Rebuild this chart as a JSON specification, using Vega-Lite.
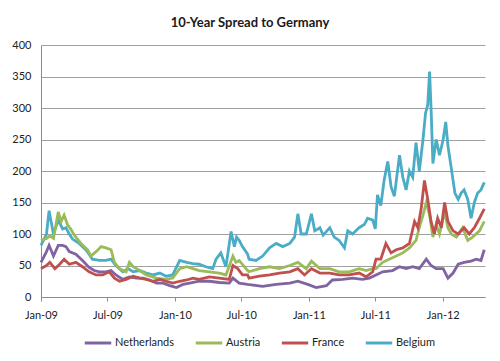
{
"$schema": "https://vega.github.io/schema/vega-lite/v6.json",
"width": 444, "height": 252,
"autosize": "none",
"padding": {"left": 41, "top": 45, "right": 15, "bottom": 64},
"background": "white",
"title": {"text": "10-Year Spread to Germany", "font": "Lato", "fontSize": 13, "fontWeight": "bold", "color": "#1a1a1a", "dx": -13, "offset": 9},
"config": {"view": {"stroke": null}},
"data": {"values": [
{"d":"2009-01-01","c":"Belgium","v":82},{"d":"2009-01-16","c":"Belgium","v":100},{"d":"2009-01-23","c":"Belgium","v":137},{"d":"2009-02-04","c":"Belgium","v":100},{"d":"2009-02-17","c":"Belgium","v":122},{"d":"2009-03-01","c":"Belgium","v":108},{"d":"2009-03-10","c":"Belgium","v":110},{"d":"2009-03-19","c":"Belgium","v":100},{"d":"2009-03-28","c":"Belgium","v":92},{"d":"2009-04-15","c":"Belgium","v":85},{"d":"2009-05-03","c":"Belgium","v":75},{"d":"2009-05-12","c":"Belgium","v":68},{"d":"2009-05-21","c":"Belgium","v":60},{"d":"2009-06-09","c":"Belgium","v":58},{"d":"2009-06-27","c":"Belgium","v":58},{"d":"2009-07-11","c":"Belgium","v":60},{"d":"2009-07-24","c":"Belgium","v":50},{"d":"2009-08-12","c":"Belgium","v":40},{"d":"2009-08-26","c":"Belgium","v":45},{"d":"2009-09-09","c":"Belgium","v":40},{"d":"2009-09-27","c":"Belgium","v":42},{"d":"2009-10-15","c":"Belgium","v":38},{"d":"2009-11-02","c":"Belgium","v":35},{"d":"2009-11-21","c":"Belgium","v":38},{"d":"2009-12-08","c":"Belgium","v":33},{"d":"2009-12-26","c":"Belgium","v":35},{"d":"2010-01-14","c":"Belgium","v":58},{"d":"2010-02-02","c":"Belgium","v":55},{"d":"2010-02-19","c":"Belgium","v":53},{"d":"2010-03-08","c":"Belgium","v":52},{"d":"2010-03-26","c":"Belgium","v":48},{"d":"2010-04-14","c":"Belgium","v":45},{"d":"2010-04-23","c":"Belgium","v":60},{"d":"2010-05-06","c":"Belgium","v":70},{"d":"2010-05-20","c":"Belgium","v":48},{"d":"2010-06-03","c":"Belgium","v":104},{"d":"2010-06-12","c":"Belgium","v":80},{"d":"2010-06-18","c":"Belgium","v":95},{"d":"2010-06-25","c":"Belgium","v":90},{"d":"2010-07-04","c":"Belgium","v":80},{"d":"2010-07-18","c":"Belgium","v":68},{"d":"2010-07-22","c":"Belgium","v":60},{"d":"2010-08-10","c":"Belgium","v":58},{"d":"2010-08-28","c":"Belgium","v":65},{"d":"2010-09-16","c":"Belgium","v":78},{"d":"2010-10-04","c":"Belgium","v":85},{"d":"2010-10-22","c":"Belgium","v":80},{"d":"2010-11-10","c":"Belgium","v":85},{"d":"2010-11-23","c":"Belgium","v":95},{"d":"2010-12-02","c":"Belgium","v":132},{"d":"2010-12-11","c":"Belgium","v":100},{"d":"2010-12-25","c":"Belgium","v":100},{"d":"2011-01-08","c":"Belgium","v":132},{"d":"2011-01-17","c":"Belgium","v":105},{"d":"2011-01-31","c":"Belgium","v":110},{"d":"2011-02-09","c":"Belgium","v":98},{"d":"2011-02-27","c":"Belgium","v":110},{"d":"2011-03-11","c":"Belgium","v":95},{"d":"2011-03-24","c":"Belgium","v":90},{"d":"2011-04-08","c":"Belgium","v":78},{"d":"2011-04-17","c":"Belgium","v":105},{"d":"2011-04-30","c":"Belgium","v":100},{"d":"2011-05-18","c":"Belgium","v":110},{"d":"2011-06-01","c":"Belgium","v":115},{"d":"2011-06-10","c":"Belgium","v":125},{"d":"2011-06-24","c":"Belgium","v":122},{"d":"2011-07-01","c":"Belgium","v":108},{"d":"2011-07-07","c":"Belgium","v":162},{"d":"2011-07-16","c":"Belgium","v":145},{"d":"2011-07-25","c":"Belgium","v":185},{"d":"2011-08-04","c":"Belgium","v":215},{"d":"2011-08-13","c":"Belgium","v":175},{"d":"2011-08-22","c":"Belgium","v":160},{"d":"2011-09-05","c":"Belgium","v":225},{"d":"2011-09-14","c":"Belgium","v":190},{"d":"2011-09-23","c":"Belgium","v":170},{"d":"2011-10-02","c":"Belgium","v":200},{"d":"2011-10-11","c":"Belgium","v":190},{"d":"2011-10-20","c":"Belgium","v":245},{"d":"2011-10-29","c":"Belgium","v":200},{"d":"2011-11-08","c":"Belgium","v":250},{"d":"2011-11-15","c":"Belgium","v":292},{"d":"2011-11-21","c":"Belgium","v":305},{"d":"2011-11-26","c":"Belgium","v":358},{"d":"2011-11-30","c":"Belgium","v":300},{"d":"2011-12-05","c":"Belgium","v":212},{"d":"2011-12-14","c":"Belgium","v":250},{"d":"2011-12-23","c":"Belgium","v":225},{"d":"2012-01-02","c":"Belgium","v":250},{"d":"2012-01-09","c":"Belgium","v":278},{"d":"2012-01-15","c":"Belgium","v":240},{"d":"2012-01-24","c":"Belgium","v":205},{"d":"2012-02-03","c":"Belgium","v":165},{"d":"2012-02-12","c":"Belgium","v":155},{"d":"2012-02-20","c":"Belgium","v":165},{"d":"2012-02-28","c":"Belgium","v":170},{"d":"2012-03-09","c":"Belgium","v":155},{"d":"2012-03-18","c":"Belgium","v":125},{"d":"2012-03-27","c":"Belgium","v":150},{"d":"2012-04-05","c":"Belgium","v":165},{"d":"2012-04-14","c":"Belgium","v":170},{"d":"2012-04-23","c":"Belgium","v":182},
{"d":"2009-01-01","c":"Netherlands","v":55},{"d":"2009-01-16","c":"Netherlands","v":72},{"d":"2009-01-23","c":"Netherlands","v":82},{"d":"2009-02-04","c":"Netherlands","v":65},{"d":"2009-02-17","c":"Netherlands","v":82},{"d":"2009-03-01","c":"Netherlands","v":82},{"d":"2009-03-10","c":"Netherlands","v":80},{"d":"2009-03-19","c":"Netherlands","v":72},{"d":"2009-04-06","c":"Netherlands","v":68},{"d":"2009-04-24","c":"Netherlands","v":58},{"d":"2009-05-12","c":"Netherlands","v":47},{"d":"2009-05-26","c":"Netherlands","v":42},{"d":"2009-06-09","c":"Netherlands","v":40},{"d":"2009-06-27","c":"Netherlands","v":40},{"d":"2009-07-11","c":"Netherlands","v":42},{"d":"2009-07-24","c":"Netherlands","v":35},{"d":"2009-08-12","c":"Netherlands","v":28},{"d":"2009-08-30","c":"Netherlands","v":32},{"d":"2009-09-18","c":"Netherlands","v":30},{"d":"2009-10-06","c":"Netherlands","v":30},{"d":"2009-10-24","c":"Netherlands","v":27},{"d":"2009-11-12","c":"Netherlands","v":22},{"d":"2009-11-30","c":"Netherlands","v":22},{"d":"2009-12-18","c":"Netherlands","v":18},{"d":"2010-01-05","c":"Netherlands","v":15},{"d":"2010-01-23","c":"Netherlands","v":20},{"d":"2010-02-10","c":"Netherlands","v":22},{"d":"2010-03-08","c":"Netherlands","v":25},{"d":"2010-04-05","c":"Netherlands","v":25},{"d":"2010-05-02","c":"Netherlands","v":23},{"d":"2010-05-29","c":"Netherlands","v":22},{"d":"2010-06-08","c":"Netherlands","v":30},{"d":"2010-06-25","c":"Netherlands","v":22},{"d":"2010-07-18","c":"Netherlands","v":20},{"d":"2010-08-28","c":"Netherlands","v":17},{"d":"2010-10-04","c":"Netherlands","v":20},{"d":"2010-11-10","c":"Netherlands","v":22},{"d":"2010-12-02","c":"Netherlands","v":25},{"d":"2010-12-29","c":"Netherlands","v":20},{"d":"2011-01-21","c":"Netherlands","v":15},{"d":"2011-02-18","c":"Netherlands","v":18},{"d":"2011-03-06","c":"Netherlands","v":27},{"d":"2011-04-03","c":"Netherlands","v":28},{"d":"2011-04-30","c":"Netherlands","v":30},{"d":"2011-05-27","c":"Netherlands","v":28},{"d":"2011-06-15","c":"Netherlands","v":30},{"d":"2011-07-03","c":"Netherlands","v":35},{"d":"2011-07-21","c":"Netherlands","v":40},{"d":"2011-08-17","c":"Netherlands","v":42},{"d":"2011-09-05","c":"Netherlands","v":48},{"d":"2011-09-23","c":"Netherlands","v":45},{"d":"2011-10-11","c":"Netherlands","v":48},{"d":"2011-10-29","c":"Netherlands","v":45},{"d":"2011-11-17","c":"Netherlands","v":60},{"d":"2011-11-30","c":"Netherlands","v":50},{"d":"2011-12-14","c":"Netherlands","v":45},{"d":"2012-01-02","c":"Netherlands","v":45},{"d":"2012-01-15","c":"Netherlands","v":30},{"d":"2012-01-29","c":"Netherlands","v":38},{"d":"2012-02-12","c":"Netherlands","v":52},{"d":"2012-02-28","c":"Netherlands","v":55},{"d":"2012-03-18","c":"Netherlands","v":57},{"d":"2012-04-01","c":"Netherlands","v":60},{"d":"2012-04-14","c":"Netherlands","v":58},{"d":"2012-04-23","c":"Netherlands","v":75},
{"d":"2009-01-01","c":"Austria","v":90},{"d":"2009-01-16","c":"Austria","v":93},{"d":"2009-01-25","c":"Austria","v":97},{"d":"2009-02-04","c":"Austria","v":93},{"d":"2009-02-17","c":"Austria","v":135},{"d":"2009-02-25","c":"Austria","v":120},{"d":"2009-03-05","c":"Austria","v":130},{"d":"2009-03-14","c":"Austria","v":115},{"d":"2009-03-23","c":"Austria","v":108},{"d":"2009-04-02","c":"Austria","v":98},{"d":"2009-04-20","c":"Austria","v":85},{"d":"2009-05-08","c":"Austria","v":75},{"d":"2009-05-17","c":"Austria","v":65},{"d":"2009-05-31","c":"Austria","v":72},{"d":"2009-06-14","c":"Austria","v":80},{"d":"2009-06-27","c":"Austria","v":78},{"d":"2009-07-11","c":"Austria","v":75},{"d":"2009-07-20","c":"Austria","v":55},{"d":"2009-08-03","c":"Austria","v":45},{"d":"2009-08-21","c":"Austria","v":40},{"d":"2009-08-30","c":"Austria","v":55},{"d":"2009-09-09","c":"Austria","v":48},{"d":"2009-09-27","c":"Austria","v":42},{"d":"2009-10-15","c":"Austria","v":35},{"d":"2009-11-12","c":"Austria","v":30},{"d":"2009-12-08","c":"Austria","v":28},{"d":"2009-12-26","c":"Austria","v":30},{"d":"2010-01-14","c":"Austria","v":45},{"d":"2010-02-02","c":"Austria","v":48},{"d":"2010-02-19","c":"Austria","v":45},{"d":"2010-03-08","c":"Austria","v":42},{"d":"2010-04-05","c":"Austria","v":40},{"d":"2010-05-02","c":"Austria","v":38},{"d":"2010-05-20","c":"Austria","v":35},{"d":"2010-06-08","c":"Austria","v":65},{"d":"2010-06-16","c":"Austria","v":55},{"d":"2010-06-25","c":"Austria","v":58},{"d":"2010-07-18","c":"Austria","v":42},{"d":"2010-07-22","c":"Austria","v":40},{"d":"2010-08-19","c":"Austria","v":45},{"d":"2010-09-16","c":"Austria","v":48},{"d":"2010-10-13","c":"Austria","v":45},{"d":"2010-11-10","c":"Austria","v":50},{"d":"2010-12-02","c":"Austria","v":55},{"d":"2010-12-25","c":"Austria","v":45},{"d":"2011-01-08","c":"Austria","v":57},{"d":"2011-01-31","c":"Austria","v":45},{"d":"2011-02-27","c":"Austria","v":45},{"d":"2011-03-24","c":"Austria","v":40},{"d":"2011-04-21","c":"Austria","v":40},{"d":"2011-05-18","c":"Austria","v":45},{"d":"2011-06-06","c":"Austria","v":42},{"d":"2011-06-24","c":"Austria","v":45},{"d":"2011-07-03","c":"Austria","v":45},{"d":"2011-07-21","c":"Austria","v":55},{"d":"2011-08-08","c":"Austria","v":60},{"d":"2011-08-27","c":"Austria","v":65},{"d":"2011-09-14","c":"Austria","v":70},{"d":"2011-10-02","c":"Austria","v":78},{"d":"2011-10-20","c":"Austria","v":90},{"d":"2011-10-29","c":"Austria","v":110},{"d":"2011-11-08","c":"Austria","v":130},{"d":"2011-11-17","c":"Austria","v":150},{"d":"2011-11-26","c":"Austria","v":130},{"d":"2011-12-05","c":"Austria","v":95},{"d":"2011-12-14","c":"Austria","v":115},{"d":"2011-12-23","c":"Austria","v":100},{"d":"2012-01-06","c":"Austria","v":135},{"d":"2012-01-15","c":"Austria","v":110},{"d":"2012-01-24","c":"Austria","v":100},{"d":"2012-02-07","c":"Austria","v":95},{"d":"2012-02-24","c":"Austria","v":110},{"d":"2012-03-09","c":"Austria","v":90},{"d":"2012-03-22","c":"Austria","v":95},{"d":"2012-04-10","c":"Austria","v":105},{"d":"2012-04-23","c":"Austria","v":120},
{"d":"2009-01-01","c":"France","v":45},{"d":"2009-01-16","c":"France","v":50},{"d":"2009-01-25","c":"France","v":55},{"d":"2009-02-08","c":"France","v":45},{"d":"2009-02-21","c":"France","v":52},{"d":"2009-03-05","c":"France","v":60},{"d":"2009-03-19","c":"France","v":52},{"d":"2009-04-06","c":"France","v":55},{"d":"2009-04-24","c":"France","v":48},{"d":"2009-05-12","c":"France","v":40},{"d":"2009-05-31","c":"France","v":35},{"d":"2009-06-18","c":"France","v":35},{"d":"2009-07-06","c":"France","v":40},{"d":"2009-07-20","c":"France","v":30},{"d":"2009-08-03","c":"France","v":25},{"d":"2009-08-21","c":"France","v":28},{"d":"2009-09-09","c":"France","v":33},{"d":"2009-09-27","c":"France","v":30},{"d":"2009-10-15","c":"France","v":28},{"d":"2009-11-02","c":"France","v":25},{"d":"2009-11-21","c":"France","v":28},{"d":"2009-12-08","c":"France","v":25},{"d":"2009-12-26","c":"France","v":22},{"d":"2010-01-14","c":"France","v":25},{"d":"2010-02-02","c":"France","v":27},{"d":"2010-02-19","c":"France","v":30},{"d":"2010-03-08","c":"France","v":28},{"d":"2010-04-05","c":"France","v":32},{"d":"2010-05-02","c":"France","v":30},{"d":"2010-05-29","c":"France","v":28},{"d":"2010-06-08","c":"France","v":50},{"d":"2010-06-21","c":"France","v":45},{"d":"2010-07-04","c":"France","v":35},{"d":"2010-07-18","c":"France","v":35},{"d":"2010-07-22","c":"France","v":30},{"d":"2010-08-19","c":"France","v":33},{"d":"2010-09-16","c":"France","v":35},{"d":"2010-10-13","c":"France","v":38},{"d":"2010-11-10","c":"France","v":40},{"d":"2010-12-02","c":"France","v":45},{"d":"2010-12-20","c":"France","v":35},{"d":"2011-01-08","c":"France","v":45},{"d":"2011-01-31","c":"France","v":38},{"d":"2011-02-27","c":"France","v":38},{"d":"2011-03-24","c":"France","v":35},{"d":"2011-04-21","c":"France","v":35},{"d":"2011-05-18","c":"France","v":38},{"d":"2011-06-06","c":"France","v":32},{"d":"2011-06-24","c":"France","v":40},{"d":"2011-07-03","c":"France","v":60},{"d":"2011-07-16","c":"France","v":60},{"d":"2011-07-30","c":"France","v":85},{"d":"2011-08-13","c":"France","v":70},{"d":"2011-08-27","c":"France","v":75},{"d":"2011-09-14","c":"France","v":78},{"d":"2011-10-02","c":"France","v":85},{"d":"2011-10-16","c":"France","v":120},{"d":"2011-10-25","c":"France","v":110},{"d":"2011-11-03","c":"France","v":140},{"d":"2011-11-12","c":"France","v":185},{"d":"2011-11-21","c":"France","v":155},{"d":"2011-11-30","c":"France","v":120},{"d":"2011-12-09","c":"France","v":100},{"d":"2011-12-18","c":"France","v":125},{"d":"2011-12-28","c":"France","v":110},{"d":"2012-01-06","c":"France","v":150},{"d":"2012-01-15","c":"France","v":120},{"d":"2012-01-29","c":"France","v":105},{"d":"2012-02-12","c":"France","v":100},{"d":"2012-02-28","c":"France","v":110},{"d":"2012-03-13","c":"France","v":100},{"d":"2012-03-27","c":"France","v":110},{"d":"2012-04-10","c":"France","v":125},{"d":"2012-04-23","c":"France","v":140}
]},
"mark": {"type": "line", "strokeWidth": 2.8},
"encoding": {
  "x": {"field": "d", "type": "temporal",
    "scale": {"type": "utc", "domain": [{"year": 2009, "month": 1, "date": 1, "utc": true}, {"year": 2012, "month": 4, "date": 25, "utc": true}]},
    "axis": {"title": null, "grid": false, "labelExpr": "utcFormat(datum.value, '%b-%y')",
      "values": [{"year": 2009, "month": 1, "date": 1, "utc": true}, {"year": 2009, "month": 7, "date": 1, "utc": true}, {"year": 2010, "month": 1, "date": 1, "utc": true}, {"year": 2010, "month": 7, "date": 1, "utc": true}, {"year": 2011, "month": 1, "date": 1, "utc": true}, {"year": 2011, "month": 7, "date": 1, "utc": true}, {"year": 2012, "month": 1, "date": 1, "utc": true}],
      "tickSize": 4, "tickColor": "#8c8c8c", "domainColor": "#8c8c8c", "labelPadding": 8, "labelFont": "Lato", "labelFontSize": 11, "labelColor": "#222", "labelFlush": false, "labelAlign": "center"}},
  "y": {"field": "v", "type": "quantitative",
    "scale": {"domain": [0, 400], "nice": false},
    "axis": {"title": null, "values": [0, 50, 100, 150, 200, 250, 300, 350, 400], "ticks": false, "labelPadding": 10, "labelFont": "Lato", "labelFontSize": 11, "labelColor": "#222", "domainColor": "#8c8c8c", "gridColor": "#a0a0a0", "gridWidth": 1}},
  "color": {"field": "c", "type": "nominal",
    "scale": {"domain": ["Netherlands", "Austria", "France", "Belgium"], "range": ["#8064A2", "#9BBB59", "#C0504D", "#4BACC6"]},
    "legend": {"title": null, "orient": "none", "direction": "horizontal", "legendX": 42, "legendY": 283, "symbolType": "stroke", "symbolSize": 700, "symbolStrokeWidth": 3, "labelFont": "Lato", "labelFontSize": 11, "labelColor": "#222", "labelOffset": 2, "columnPadding": 14}}
}
}
